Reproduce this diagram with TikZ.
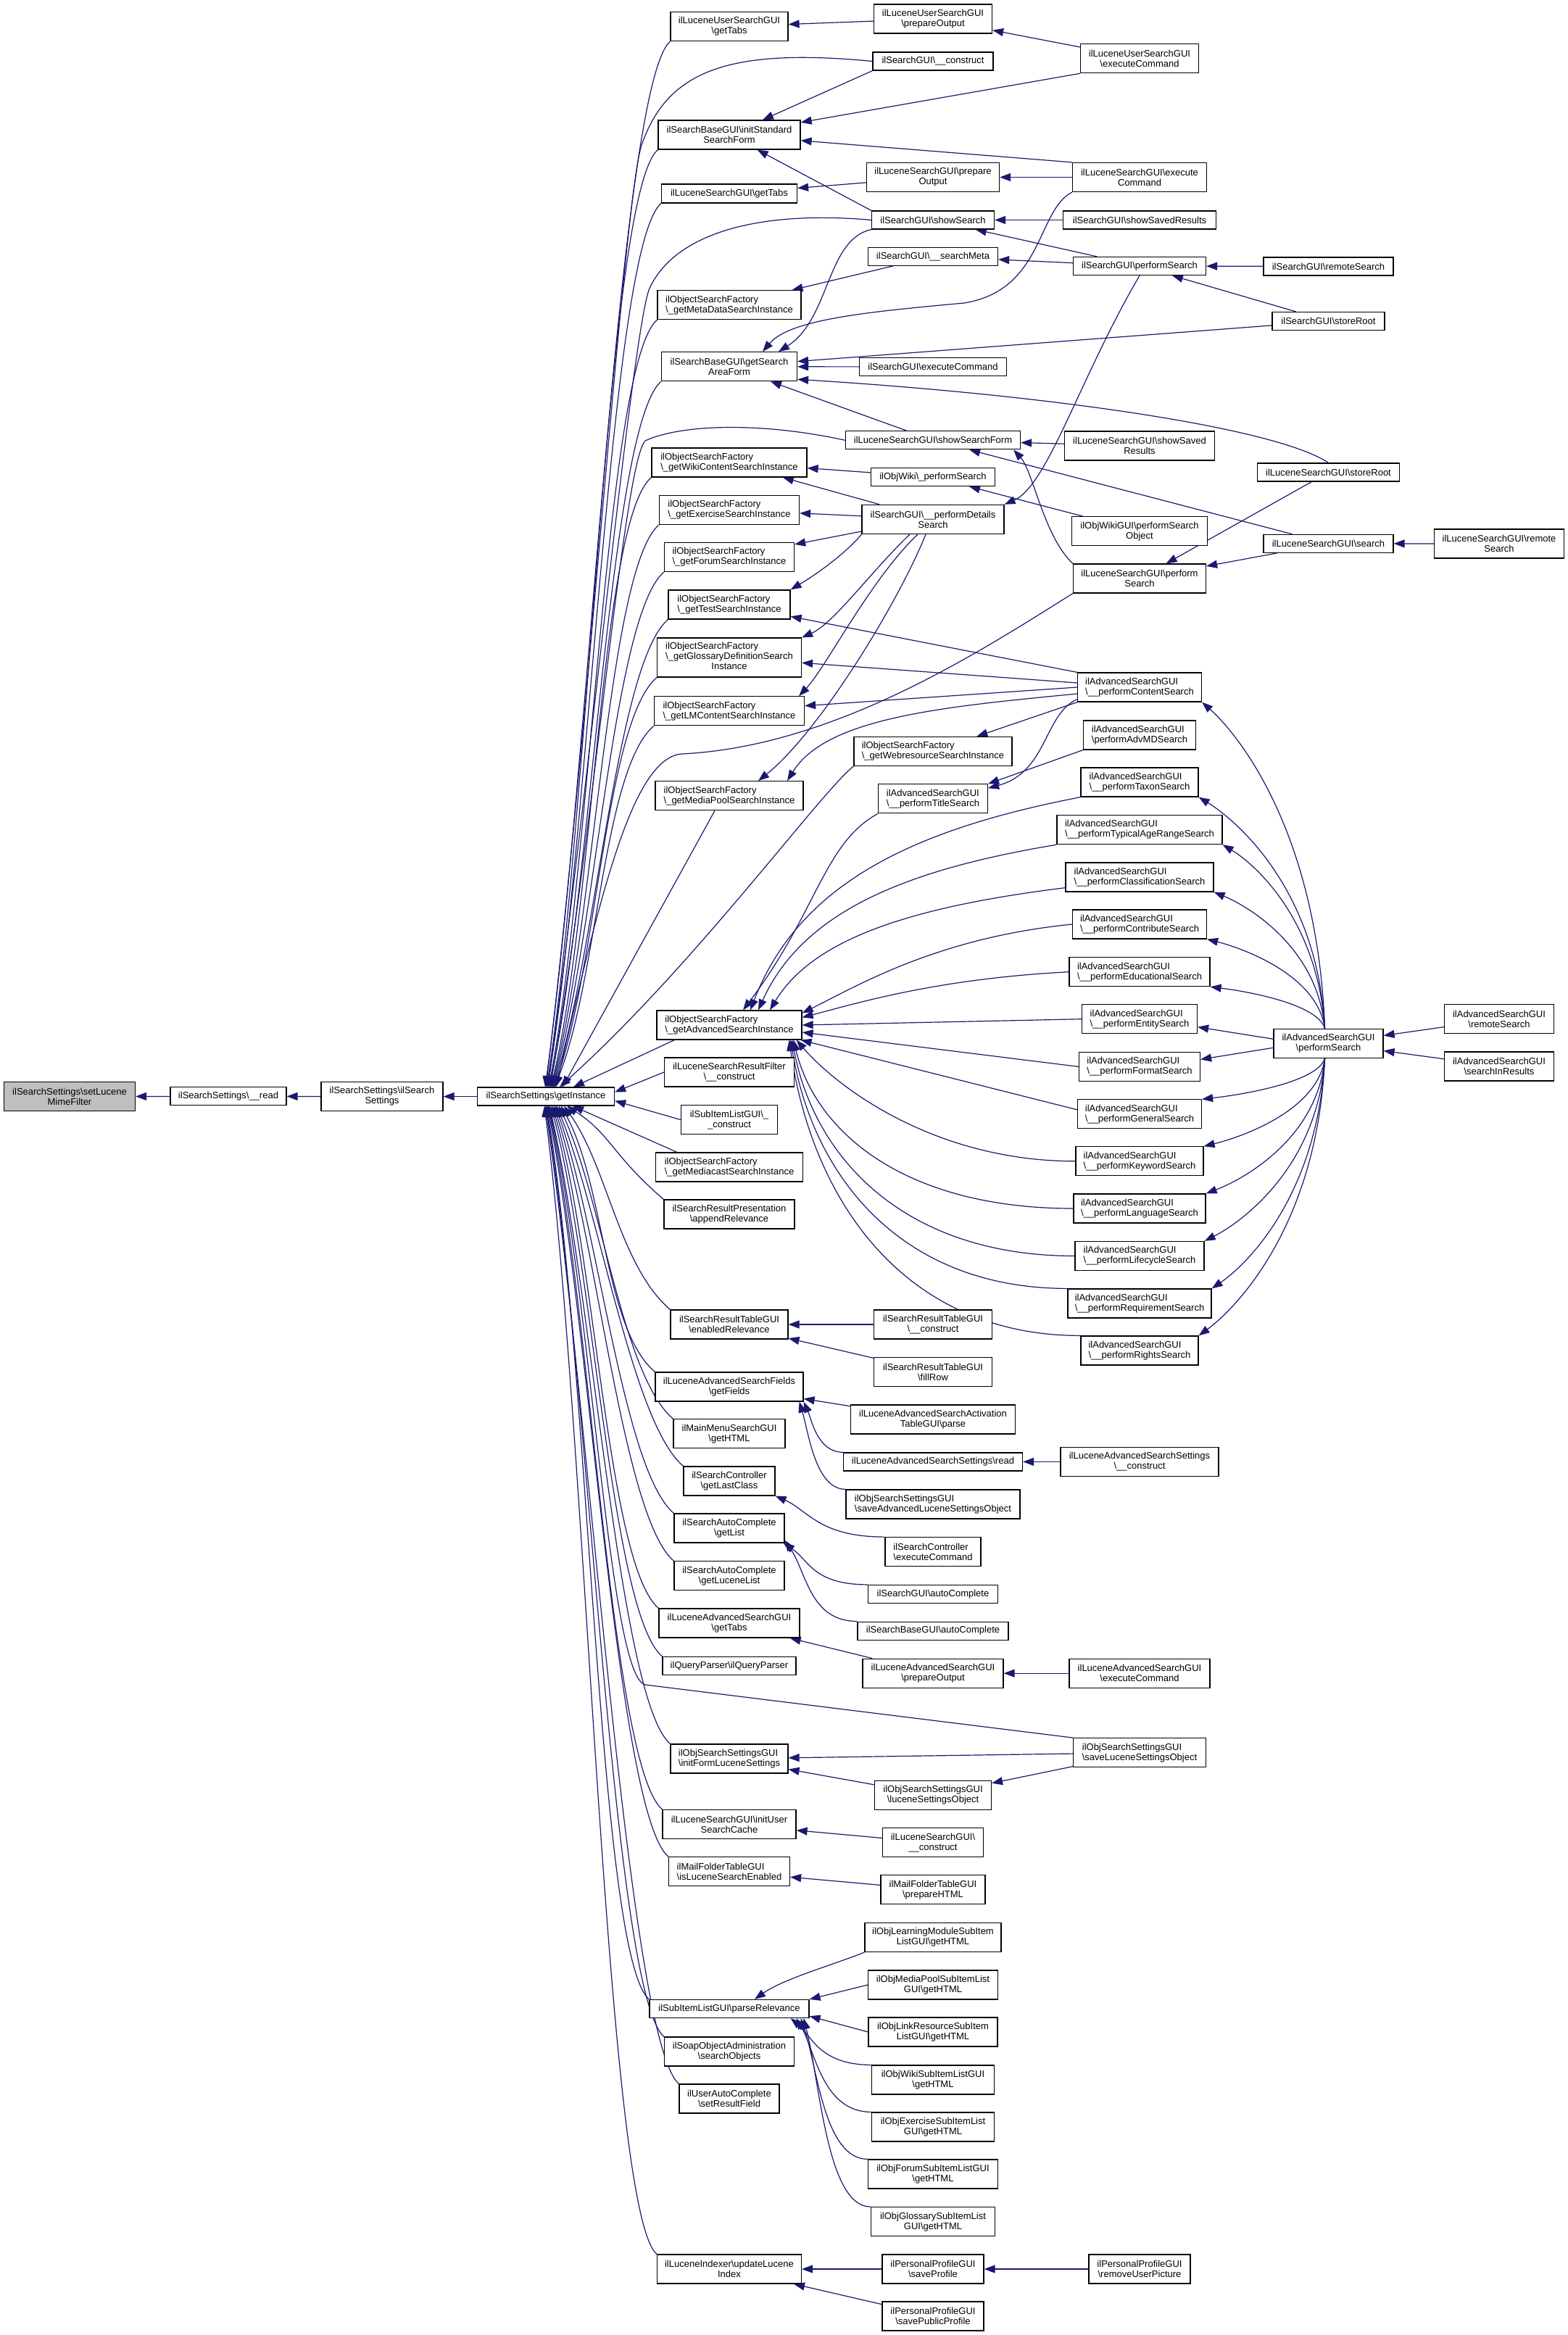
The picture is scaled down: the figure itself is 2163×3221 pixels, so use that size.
\documentclass[tikz,border=0pt]{standalone}
\usepackage{fontspec}
\setmainfont{Liberation Sans}
\usetikzlibrary{arrows.meta,calc}
\definecolor{edgeblue}{HTML}{191970}
\definecolor{rootgray}{HTML}{BFBFBF}
\def\BS{\textbackslash}
\pgfdeclarelayer{bg}
\pgfsetlayers{bg,main}
\tikzset{
  box/.style={draw=black, line width=1.2pt, fill=white, inner sep=1pt, font=\fontsize{13pt}{14pt}\selectfont, align=center},
  lbox/.style={box, align=left},
  edge/.style={draw=edgeblue, line width=1.2pt, -{Triangle[length=15pt,width=11pt]}},
}
\newcommand\mknode[7][box]{\node[#1,minimum width=#5pt,minimum height=#6pt] (#2) at (#3,#4) {#7};}
\newcommand\eGIup[2]{\draw[edge] let \p1=(#1), \p2=(#2) in (\p1) .. controls ({\x1-70pt},{\y1-60pt}) and ({\x2+60pt},{\y2-0.3*(\y2-\y1)}) .. (\p2);}
\newcommand\eGIdn[2]{\draw[edge] let \p1=(#1), \p2=(#2) in (\p1) .. controls ({\x1-70pt},{\y1+60pt}) and ({\x2+60pt},{\y2-0.3*(\y2-\y1)}) .. (\p2);}
\newcommand\eFanUp[2]{\draw[edge] let \p1=(#1), \p2=(#2) in (\p1) .. controls ({\x1-10pt},{\y1+0.6*(\y2-\y1)}) and ({\x2+0.3*(\x1-\x2)},{\y2-0.1*(\y2-\y1)}) .. (\p2);}
\newcommand\eFanLo[5]{\draw[edge] let \p1=(#1), \p2=(#2) in (\p1) .. controls ({\x2+#3*(\x1-\x2)},{\y1}) and ({\x2+#4*(\x1-\x2)},{\y2+#5*(\y1-\y2)}) .. (\p2);}
\newcommand\eFanHi[5]{\draw[edge] let \p1=(#1), \p2=(#2) in (\p1) .. controls ({\x2+#3*(\x1-\x2)},{\y1+0.15*(\y2-\y1)}) and ({\x2+#4*(\x1-\x2)},{\y2-#5*(\y2-\y1)}) .. (\p2);}
\begin{document}
\begin{tikzpicture}[x=1pt,y=-1pt]
\useasboundingbox (0,0) rectangle (2163,3221);
% ---------- columns 0-3
\mknode[box,fill=rootgray]{root}{96}{1512.5}{181}{40}{ilSearchSettings\BS{}setLucene\\MimeFilter}
\mknode{read}{315}{1512.3}{160}{25}{ilSearchSettings\BS\_\_read}
\mknode{iss}{527}{1512.5}{168}{40}{ilSearchSettings\BS{}ilSearch\\Settings}
\mknode{gi}{753}{1512.5}{189}{25}{ilSearchSettings\BS{}getInstance}
% ---------- column 4
\mknode{a1}{1006}{36.6}{162}{40}{ilLuceneUserSearchGUI\\\BS{}getTabs}
\mknode{a2}{1006}{186}{196}{40}{ilSearchBaseGUI\BS{}initStandard\\SearchForm}
\mknode{a3}{1006}{267}{187}{26}{ilLuceneSearchGUI\BS{}getTabs}
\mknode[lbox]{a4}{1006}{420.7}{198}{40}{ilObjectSearchFactory\\\BS\_getMetaDataSearchInstance}
\mknode{a5}{1006}{505.7}{187}{40}{ilSearchBaseGUI\BS{}getSearch\\AreaForm}
\mknode[lbox]{a6}{1006}{638}{214}{40}{ilObjectSearchFactory\\\BS\_getWikiContentSearchInstance}
\mknode[lbox]{a7}{1006}{703.4}{193}{40}{ilObjectSearchFactory\\\BS\_getExerciseSearchInstance}
\mknode[lbox]{a8}{1006}{768.4}{179}{40}{ilObjectSearchFactory\\\BS\_getForumSearchInstance}
\mknode[lbox]{a9}{1006}{834}{168}{40}{ilObjectSearchFactory\\\BS\_getTestSearchInstance}
\mknode{a10}{1006}{907}{199}{54}{\begin{tabular}{@{}l@{}}ilObjectSearchFactory\\\BS\_getGlossaryDefinitionSearch\\\multicolumn{1}{@{}c@{}}{Instance}\end{tabular}}
\mknode[lbox]{a11}{1006}{980.7}{207}{40}{ilObjectSearchFactory\\\BS\_getLMContentSearchInstance}
\mknode[lbox]{a12}{1006}{1097.7}{204}{40}{ilObjectSearchFactory\\\BS\_getMediaPoolSearchInstance}
\mknode[lbox]{a13}{1006}{1414}{200}{40}{ilObjectSearchFactory\\\BS\_getAdvancedSearchInstance}
\mknode{a14}{1006}{1479}{179}{40}{ilLuceneSearchResultFilter\\\BS\_\_construct}
\mknode{a15}{1006}{1544.6}{133}{40}{ilSubItemListGUI\BS\_\\\_construct}
\mknode[lbox]{a16}{1006}{1610}{203}{40}{ilObjectSearchFactory\\\BS\_getMediacastSearchInstance}
\mknode{a17}{1006}{1675}{180}{40}{ilSearchResultPresentation\\\BS{}appendRelevance}
\mknode{a18}{1006}{1827}{162}{40}{ilSearchResultTableGUI\\\BS{}enabledRelevance}
\mknode{a19}{1006}{1913}{204}{40}{ilLuceneAdvancedSearchFields\\\BS{}getFields}
\mknode{a20}{1006}{1977.7}{154}{40}{ilMainMenuSearchGUI\\\BS{}getHTML}
\mknode{a21}{1006}{2042.9}{126}{40}{ilSearchController\\\BS{}getLastClass}
\mknode{a22}{1006}{2108}{152}{40}{ilSearchAutoComplete\\\BS{}getList}
\mknode{a23}{1006}{2173.8}{152}{40}{ilSearchAutoComplete\\\BS{}getLuceneList}
\mknode{a24}{1006}{2239}{194}{40}{ilLuceneAdvancedSearchGUI\\\BS{}getTabs}
\mknode{a25}{1006}{2298}{184}{25}{ilQueryParser\BS{}ilQueryParser}
\mknode[lbox]{a26}{1006}{2426}{162}{40}{ilObjSearchSettingsGUI\\\BS{}initFormLuceneSettings}
\mknode{a27}{1006}{2516.4}{184}{40}{ilLuceneSearchGUI\BS{}initUser\\SearchCache}
\mknode[lbox]{a28}{1006}{2581.8}{167}{40}{ilMailFolderTableGUI\\\BS{}isLuceneSearchEnabled}
\mknode{a29}{1006}{2771}{220}{25}{ilSubItemListGUI\BS{}parseRelevance}
\mknode{a30}{1006}{2830}{179}{40}{ilSoapObjectAdministration\\\BS{}searchObjects}
\mknode{a31}{1006}{2895}{138}{40}{ilUserAutoComplete\\\BS{}setResultField}
\mknode{a32}{1006}{3130}{199}{40}{ilLuceneIndexer\BS{}updateLucene\\Index}
% ---------- column 5
\mknode{b1}{1287}{26}{163}{40}{ilLuceneUserSearchGUI\\\BS{}prepareOutput}
\mknode{b2}{1287}{84.5}{166}{25}{ilSearchGUI\BS\_\_construct}
\mknode{b3}{1287}{244.5}{183}{40}{ilLuceneSearchGUI\BS{}prepare\\Output}
\mknode{b4}{1287}{303.5}{169}{25}{ilSearchGUI\BS{}showSearch}
\mknode{b5}{1287}{353.8}{179}{25}{ilSearchGUI\BS\_\_searchMeta}
\mknode{b6}{1287}{506}{203}{25}{ilSearchGUI\BS{}executeCommand}
\mknode{b7}{1287}{607.3}{241}{25}{ilLuceneSearchGUI\BS{}showSearchForm}
\mknode{b8}{1287}{658}{171}{25}{ilObjWiki\BS\_performSearch}
\mknode{b9}{1287}{716.4}{196}{40}{ilSearchGUI\BS\_\_performDetails\\Search}
\mknode[lbox]{b10}{1287}{1036.4}{218}{40}{ilObjectSearchFactory\\\BS\_getWebresourceSearchInstance}
\mknode[lbox]{b11}{1287}{1101.8}{151}{40}{ilAdvancedSearchGUI\\\BS\_\_performTitleSearch}
\mknode{b12}{1287}{1827}{163}{40}{ilSearchResultTableGUI\\\BS\_\_construct}
\mknode{b13}{1287}{1892.5}{163}{40}{ilSearchResultTableGUI\\\BS{}fillRow}
\mknode{b14}{1287}{1958}{227}{40}{ilLuceneAdvancedSearchActivation\\TableGUI\BS{}parse}
\mknode{b15}{1287}{2016.4}{247}{25}{ilLuceneAdvancedSearchSettings\BS{}read}
\mknode[lbox]{b16}{1287}{2075}{240}{40}{ilObjSearchSettingsGUI\\\BS{}saveAdvancedLuceneSettingsObject}
\mknode[lbox]{b17}{1287}{2140.7}{132}{40}{ilSearchController\\\BS{}executeCommand}
\mknode{b18}{1287}{2199}{179}{25}{ilSearchGUI\BS{}autoComplete}
\mknode{b19}{1287}{2249.6}{208}{25}{ilSearchBaseGUI\BS{}autoComplete}
\mknode{b20}{1287}{2308.2}{194}{40}{ilLuceneAdvancedSearchGUI\\\BS{}prepareOutput}
\mknode{b21}{1287}{2476.4}{161}{40}{ilObjSearchSettingsGUI\\\BS{}luceneSettingsObject}
\mknode{b22}{1287}{2541.8}{139}{40}{ilLuceneSearchGUI\BS\\\_\_construct}
\mknode{b23}{1287}{2606.8}{144}{40}{ilMailFolderTableGUI\\\BS{}prepareHTML}
\mknode{b24}{1287}{2672.5}{188}{40}{ilObjLearningModuleSubItem\\ListGUI\BS{}getHTML}
\mknode{b25}{1287}{2738}{179}{40}{ilObjMediaPoolSubItemList\\GUI\BS{}getHTML}
\mknode{b26}{1287}{2803}{178}{40}{ilObjLinkResourceSubItem\\ListGUI\BS{}getHTML}
\mknode{b27}{1287}{2869}{169}{40}{ilObjWikiSubItemListGUI\\\BS{}getHTML}
\mknode{b28}{1287}{2934}{169}{40}{ilObjExerciseSubItemList\\GUI\BS{}getHTML}
\mknode{b29}{1287}{2999}{179}{40}{ilObjForumSubItemListGUI\\\BS{}getHTML}
\mknode{b30}{1287}{3064.7}{171}{40}{ilObjGlossarySubItemList\\GUI\BS{}getHTML}
\mknode{b31}{1287}{3130}{140}{40}{ilPersonalProfileGUI\\\BS{}saveProfile}
\mknode{b32}{1287}{3195}{140}{40}{ilPersonalProfileGUI\\\BS{}savePublicProfile}
% ---------- column 6
\mknode{c1}{1572}{80.7}{163}{40}{ilLuceneUserSearchGUI\\\BS{}executeCommand}
\mknode{c2}{1572}{244.5}{185}{40}{ilLuceneSearchGUI\BS{}execute\\Command}
\mknode{c3}{1572}{303.5}{211}{25}{ilSearchGUI\BS{}showSavedResults}
\mknode{c4}{1572}{367}{183}{25}{ilSearchGUI\BS{}performSearch}
\mknode{c5}{1572}{615}{207}{40}{ilLuceneSearchGUI\BS{}showSaved\\Results}
\mknode{c6}{1572}{732.7}{187}{40}{ilObjWikiGUI\BS{}performSearch\\Object}
\mknode{c7}{1572}{798}{183}{40}{ilLuceneSearchGUI\BS{}perform\\Search}
\mknode[lbox]{c8}{1572}{948}{171}{40}{ilAdvancedSearchGUI\\\BS\_\_performContentSearch}
\mknode[lbox]{c9}{1572}{1014}{155}{40}{ilAdvancedSearchGUI\\\BS{}performAdvMDSearch}
\mknode[lbox]{c10}{1572}{1079}{162}{40}{ilAdvancedSearchGUI\\\BS\_\_performTaxonSearch}
\mknode[lbox]{c11}{1572}{1144.6}{228}{40}{ilAdvancedSearchGUI\\\BS\_\_performTypicalAgeRangeSearch}
\mknode[lbox]{c12}{1572}{1210}{204}{40}{ilAdvancedSearchGUI\\\BS\_\_performClassificationSearch}
\mknode[lbox]{c13}{1572}{1275}{185}{40}{ilAdvancedSearchGUI\\\BS\_\_performContributeSearch}
\mknode[lbox]{c14}{1572}{1340.7}{194}{40}{ilAdvancedSearchGUI\\\BS\_\_performEducationalSearch}
\mknode[lbox]{c15}{1572}{1405.7}{159}{40}{ilAdvancedSearchGUI\\\BS\_\_performEntitySearch}
\mknode[lbox]{c16}{1572}{1471.4}{167}{40}{ilAdvancedSearchGUI\\\BS\_\_performFormatSearch}
\mknode[lbox]{c17}{1572}{1536.8}{171}{40}{ilAdvancedSearchGUI\\\BS\_\_performGeneralSearch}
\mknode[lbox]{c18}{1572}{1601.8}{176}{40}{ilAdvancedSearchGUI\\\BS\_\_performKeywordSearch}
\mknode[lbox]{c19}{1572}{1667}{182}{40}{ilAdvancedSearchGUI\\\BS\_\_performLanguageSearch}
\mknode[lbox]{c20}{1572}{1732.5}{178}{40}{ilAdvancedSearchGUI\\\BS\_\_performLifecycleSearch}
\mknode[lbox]{c21}{1572}{1798}{198}{40}{ilAdvancedSearchGUI\\\BS\_\_performRequirementSearch}
\mknode[lbox]{c22}{1572}{1863}{162}{40}{ilAdvancedSearchGUI\\\BS\_\_performRightsSearch}
\mknode{c23}{1572}{2016.4}{218}{40}{ilLuceneAdvancedSearchSettings\\\BS\_\_construct}
\mknode{c24}{1572}{2308.2}{194}{40}{ilLuceneAdvancedSearchGUI\\\BS{}executeCommand}
\mknode[lbox]{c25}{1572}{2417.7}{183}{40}{ilObjSearchSettingsGUI\\\BS{}saveLuceneSettingsObject}
\mknode{c26}{1572}{3130}{140}{40}{ilPersonalProfileGUI\\\BS{}removeUserPicture}
% ---------- column 7
\mknode{d1}{1832.5}{367.4}{179}{25}{ilSearchGUI\BS{}remoteSearch}
\mknode{d2}{1832.5}{443}{155}{25}{ilSearchGUI\BS{}storeRoot}
\mknode{d3}{1832.5}{651.5}{196}{25}{ilLuceneSearchGUI\BS{}storeRoot}
\mknode{d4}{1832.5}{749.8}{179}{25}{ilLuceneSearchGUI\BS{}search}
\mknode{d5}{1832.5}{1439.3}{151}{40}{ilAdvancedSearchGUI\\\BS{}performSearch}
% ---------- column 8
\mknode{e1}{2068}{750}{179}{40}{ilLuceneSearchGUI\BS{}remote\\Search}
\mknode{e2}{2068}{1405.8}{151}{40}{ilAdvancedSearchGUI\\\BS{}remoteSearch}
\mknode{e3}{2068}{1471}{151}{40}{ilAdvancedSearchGUI\\\BS{}searchInResults}

\begin{pgfonlayer}{bg}
% chain
\draw[edge] (read) -- (root);
\draw[edge] (iss) -- (read);
\draw[edge] (gi) -- (iss);
% callers of getInstance, above
\eGIup{a1.south west}{[xshift=-1pt]gi.north}
\eGIup{a2.south west}{[xshift=1pt]gi.north}
\eGIup{a3.south west}{[xshift=2pt]gi.north}
\eGIup{a4.south west}{[xshift=4pt]gi.north}
\eGIup{a5.south west}{[xshift=5pt]gi.north}
\eGIup{a6.south west}{[xshift=7pt]gi.north}
\eGIup{a7.south west}{[xshift=8pt]gi.north}
\eGIup{a8.south west}{[xshift=9pt]gi.north}
\eGIup{a9.south west}{[xshift=10pt]gi.north}
\eGIup{a10.south west}{[xshift=11pt]gi.north}
\eGIup{a11.south west}{[xshift=12pt]gi.north}
\draw[edge] (b2.west) .. controls (1000,65) and (920,100) .. (885,200) .. controls (860,280) and (813,1000) .. (gi.north);
\draw[edge] (b4.west) .. controls (1050,290) and (930,320) .. (895,400) .. controls (870,480) and (816,1050) .. ([xshift=3pt]gi.north);
\draw[edge] (b7.west) .. controls (1050,582) and (940,585) .. (890,608) .. controls (860,640) and (819,1150) .. ([xshift=6pt]gi.north);
\draw[edge] (c7.south west) .. controls (1350,900) and (1150,1030) .. (940,1040) .. controls (870,1046) and (825,1250) .. ([xshift=14pt]gi.north);
\draw[edge] (b10.south west) .. controls (1130,1095) and (960,1330) .. ([xshift=19pt]gi.north);
\draw[edge] ([xshift=-20pt]a12.south) -- ([xshift=23pt]gi.north);
\draw[edge] ([xshift=25pt]a13.south west) -- ([xshift=38pt]gi.north);
\draw[edge] (a14.west) -- ([yshift=6pt]gi.east);
\draw[edge] (a15.west) -- ([yshift=-6pt]gi.east);
% callers of getInstance, below
\draw[edge] ([xshift=30pt]a16.north west) -- ([xshift=37pt]gi.south);
\eGIdn{a17.north west}{[xshift=29pt]gi.south}
\eGIdn{a18.north west}{[xshift=25pt]gi.south}
\eGIdn{a19.north west}{[xshift=21pt]gi.south}
\eGIdn{a20.north west}{[xshift=18pt]gi.south}
\eGIdn{a21.north west}{[xshift=15pt]gi.south}
\eGIdn{a22.north west}{[xshift=13pt]gi.south}
\eGIdn{a23.north west}{[xshift=11pt]gi.south}
\eGIdn{a24.north west}{[xshift=9pt]gi.south}
\eGIdn{a25.north west}{[xshift=7pt]gi.south}
\eGIdn{a26.north west}{[xshift=5pt]gi.south}
\draw[edge] (c25.north west) -- (890,2324) .. controls (840,2312) and (817,1800) .. ([xshift=4pt]gi.south);
\eGIdn{a27.north west}{[xshift=3pt]gi.south}
\eGIdn{a28.north west}{[xshift=2pt]gi.south}
\eGIdn{a29.north west}{[xshift=1pt]gi.south}
\eGIdn{a30.north west}{gi.south}
\eGIdn{a31.north west}{[xshift=-1pt]gi.south}
\eGIdn{a32.north west}{[xshift=-2pt]gi.south}
% upper area
\draw[edge] (b1) -- (a1);
\draw[edge] (c1) -- (b1);
\draw[edge] (c1.south west) -- (a2);
\draw[edge] (b2.south west) -- (a2);
\draw[edge] (c2.north west) -- (a2);
\draw[edge] (b4.north west) -- (a2);
\draw[edge] (b3) -- (a3);
\draw[edge] (c2) -- (b3);
\draw[edge] (c3) -- (b4);
\draw[edge] (c4) -- (b4);
\draw[edge] (c4) -- (b5);
\draw[edge] (b5) -- (a4);
\draw[edge] (b4.south west) .. controls (1140,330) and (1145,440) .. ([xshift=68pt]a5.north);
\draw[edge] (c2.south west) .. controls (1430,290) and (1440,400) .. (1330,418) .. controls (1200,430) and (1090,440) .. ([xshift=46pt]a5.north);
\draw[edge] (d1) -- (c4);
\draw[edge] (d2) -- (c4);
\draw[edge] (c4.south) .. controls (1490,520) and (1445,670) .. (b9.north east);
\draw[edge] (d2) -- (a5);
\draw[edge] (b6) -- (a5);
\draw[edge] (d3.north) .. controls (1760,590) and (1450,545) .. ([yshift=3pt]a5.south east);
\draw[edge] (b7) -- (a5);
\draw[edge] (c5) -- (b7);
\draw[edge] (d4) -- (b7);
\draw[edge] (c7.north west) .. controls (1440,740) and (1425,650) .. ([xshift=-10pt]b7.south east);
\draw[edge] (b8) -- (a6);
\draw[edge] (c6) -- (b8);
\draw[edge] (b9) -- (a6);
\draw[edge] (b9) -- (a7);
\draw[edge] ([yshift=4pt]b9.south west) -- (a8);
\draw[edge] (b9.south west) .. controls (1170,760) and (1130,790) .. (a9.north east);
\draw[edge] ([xshift=-32pt]b9.south) .. controls (1200,790) and (1150,860) .. (a10.north east);
\draw[edge] ([xshift=-21pt]b9.south) .. controls (1200,800) and (1140,920) .. ([xshift=-8pt]a11.north east);
\draw[edge] ([xshift=-10pt]b9.south) .. controls (1240,830) and (1130,1010) .. ([xshift=40pt]a12.north);
\draw[edge] (d3) -- (c7);
\draw[edge] (d4) -- (c7);
\draw[edge] (e1) -- (d4);
% content search
\draw[edge] (c8.north west) -- (a9);
\draw[edge] ([yshift=6pt]c8.west) -- (a10);
\draw[edge] (c8.west) -- (a11);
\draw[edge] ([yshift=-9pt]c8.west) .. controls (1300,975) and (1140,990) .. ([xshift=80pt]a12.north);
\draw[edge] (c8.south west) -- (b10);
\draw[edge] ([yshift=4pt]c8.south west) .. controls (1440,985) and (1445,1065) .. ([yshift=-6pt]b11.north east);
\draw[edge] (c9.south west) -- (b11.north east);
% advanced performSearch fan
\eFanUp{[xshift=-5pt]d5.north}{c8.south east}
\eFanUp{[xshift=-5pt]d5.north}{c10.south east}
\eFanUp{[xshift=-5pt]d5.north}{c11.south east}
\eFanUp{[xshift=-5pt]d5.north}{c12.south east}
\eFanUp{[xshift=-5pt]d5.north}{c13.south east}
\eFanUp{[xshift=-5pt]d5.north}{c14.south east}
\draw[edge] ([yshift=6pt]d5.west) -- ([yshift=-11pt]c15.east);
\draw[edge] ([yshift=-6pt]d5.west) -- ([yshift=10pt]c16.east);
\eFanUp{[xshift=-5pt]d5.south}{c17.north east}
\eFanUp{[xshift=-5pt]d5.south}{c18.north east}
\eFanUp{[xshift=-5pt]d5.south}{c19.north east}
\eFanUp{[xshift=-5pt]d5.south}{c20.north east}
\eFanUp{[xshift=-5pt]d5.south}{c21.north east}
\eFanUp{[xshift=-5pt]d5.south}{c22.north east}
\draw[edge] (e2) -- (d5);
\draw[edge] (e3) -- (d5);
% callers of getAdvancedSearchInstance
\eFanHi{b11.south west}{[xshift=19pt]a13.north}{0.6}{0.55}{0.5}
\eFanHi{c10.south west}{[xshift=29pt]a13.north}{0.5}{0.15}{0.6}
\eFanHi{c11.south west}{[xshift=40pt]a13.north}{0.5}{0.15}{0.6}
\eFanHi{[yshift=6pt]c12.south west}{[xshift=56pt]a13.north}{0.5}{0.15}{0.6}
\eFanHi{c13.west}{[yshift=-4pt]a13.north east}{0.5}{0.2}{0.3}
\eFanHi{c14.west}{[yshift=-10pt]a13.north east}{0.5}{0.2}{0.3}
\draw[edge] (c15.west) -- (a13.east);
\draw[edge] (c16.west) -- ([yshift=-10pt]a13.east);
\draw[edge] ([yshift=6pt]c17.west) -- ([xshift=-2pt]a13.south east);
\eFanLo{c18.west}{[xshift=-8pt]a13.south east}{0.5}{0.15}{0.4}
\eFanLo{c19.west}{[xshift=-12pt]a13.south east}{0.4}{0.08}{0.55}
\eFanLo{c20.west}{[xshift=-14pt]a13.south east}{0.4}{0.08}{0.55}
\eFanLo{c21.north west}{[xshift=-16pt]a13.south east}{0.4}{0.08}{0.55}
\eFanLo{c22.north west}{[xshift=-18pt]a13.south east}{0.4}{0.08}{0.55}
% lower area
\draw[edge] (b12) -- (a18);
\draw[edge] (b13) -- (a18);
\draw[edge] (b14) -- (a19);
\eFanLo{b15.north west}{a19.south east}{0.35}{0.2}{0.35}
\eFanLo{b16.north west}{[xshift=-6pt]a19.south east}{0.35}{0.2}{0.35}
\draw[edge] (c23) -- (b15);
\eFanLo{b17.north west}{a21.south east}{0.4}{0.3}{0.35}
\eFanLo{b18.north west}{[xshift=-2pt]a22.south east}{0.35}{0.3}{0.4}
\eFanLo{b19.north west}{[yshift=4pt]a22.south east}{0.35}{0.3}{0.4}
\draw[edge] (b20) -- (a24);
\draw[edge] (c24) -- (b20);
\draw[edge] (c25) -- (a26);
\draw[edge] (b21) -- (a26);
\draw[edge] (c25) -- (b21);
\draw[edge] (b22) -- (a27);
\draw[edge] (b23) -- (a28);
\draw[edge] (b24.south west) .. controls (1150,2710) and (1080,2730) .. ([xshift=35pt]a29.north);
\draw[edge] (b25.west) -- (a29.north east);
\draw[edge] (b26.west) -- ([yshift=3pt]a29.south east);
\eFanLo{b27.north west}{[xshift=-26pt]a29.south east}{0.35}{0.25}{0.35}
\eFanLo{b28.north west}{[xshift=-18pt]a29.south east}{0.35}{0.25}{0.35}
\eFanLo{b29.north west}{[xshift=-12pt]a29.south east}{0.35}{0.25}{0.35}
\eFanLo{b30.north west}{[xshift=-8pt]a29.south east}{0.35}{0.25}{0.35}
\draw[edge] (b31) -- (a32);
\draw[edge] (b32) -- (a32);
\draw[edge] (c26) -- (b31);
\end{pgfonlayer}
\end{tikzpicture}
\end{document}
